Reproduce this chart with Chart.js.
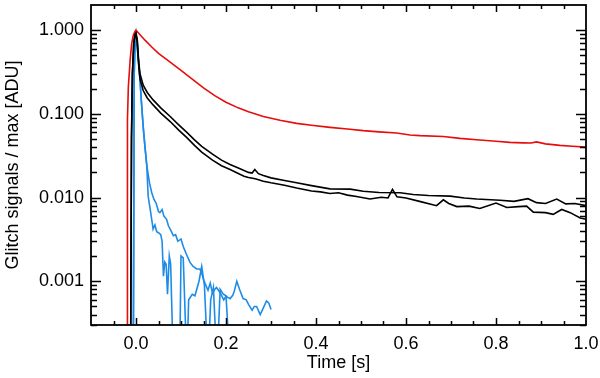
<!DOCTYPE html>
<html>
<head>
<meta charset="utf-8">
<script src="https://cdn.jsdelivr.net/npm/chart.js@4/dist/chart.umd.min.js"></script>
<style>
  html, body { margin: 0; padding: 0; background: #fff; }
  #chart { display: block; }
</style>
</head>
<body>
<canvas id="chart" width="600" height="378"></canvas>
<script>
// tick labels
const xTicks = [0.0, 0.2, 0.4, 0.6, 0.8, 1.0]
const yTicks = [0.001, 0.01, 0.1, 1]

// red glitch
const redT = [-0.020, -0.019, -0.017, -0.013, -0.0096, -0.006, -0.002, 0.0, 0.01, 0.02, 0.035, 0.05, 0.07, 0.1, 0.125, 0.15, 0.175, 0.2, 0.227, 0.25, 0.283, 0.32, 0.357, 0.39, 0.431, 0.47, 0.505, 0.54, 0.579, 0.609, 0.631, 0.683, 0.72, 0.757, 0.8, 0.831, 0.86, 0.878, 0.89, 0.91, 0.942, 0.97, 1.0]
const redV = [0.0001, 0.085, 0.21, 0.44, 0.69, 0.87, 0.97, 1.0, 0.87, 0.76, 0.63, 0.53, 0.44, 0.33, 0.26, 0.205, 0.165, 0.138, 0.118, 0.106, 0.093, 0.084, 0.077, 0.073, 0.069, 0.066, 0.063, 0.061, 0.059, 0.056, 0.055, 0.0537, 0.051, 0.049, 0.047, 0.0456, 0.045, 0.0448, 0.0462, 0.0438, 0.042, 0.041, 0.040]

// black glitches
const blackAT = [-0.012, -0.010, -0.008, -0.005, -0.002, 0.0, 0.003, 0.006, 0.009, 0.016, 0.025, 0.038, 0.055, 0.076, 0.095, 0.113, 0.13, 0.146, 0.17, 0.19, 0.209, 0.23, 0.25, 0.258, 0.264, 0.272, 0.283, 0.3, 0.33, 0.357, 0.39, 0.431, 0.476, 0.505, 0.54, 0.587, 0.616, 0.65, 0.698, 0.73, 0.757, 0.809, 0.84, 0.871, 0.89, 0.91, 0.935, 0.955, 0.975, 1.0]
const blackAV = [0.0001, 0.05, 0.3, 0.7, 0.9, 0.93, 0.75, 0.42, 0.30, 0.22, 0.18, 0.147, 0.118, 0.093, 0.074, 0.060, 0.049, 0.041, 0.033, 0.028, 0.0248, 0.0222, 0.0200, 0.0196, 0.0216, 0.0193, 0.0183, 0.0172, 0.0160, 0.0150, 0.0139, 0.0127, 0.0126, 0.0119, 0.0115, 0.0114, 0.0109, 0.0106, 0.0104, 0.0099, 0.0096, 0.0093, 0.0090, 0.0097, 0.0087, 0.0085, 0.0096, 0.0084, 0.0085, 0.0080]

const blackBT = [-0.012, -0.010, -0.008, -0.005, -0.002, 0.0, 0.003, 0.006, 0.009, 0.016, 0.025, 0.038, 0.055, 0.076, 0.095, 0.113, 0.13, 0.146, 0.17, 0.19, 0.209, 0.225, 0.24, 0.25, 0.265, 0.283, 0.3, 0.33, 0.357, 0.39, 0.41, 0.431, 0.45, 0.47, 0.49, 0.52, 0.545, 0.56, 0.570, 0.58, 0.6, 0.63, 0.668, 0.683, 0.695, 0.713, 0.74, 0.764, 0.8, 0.824, 0.85, 0.868, 0.883, 0.91, 0.927, 0.946, 0.965, 0.987, 1.0]
const blackBV = [0.0001, 0.05, 0.3, 0.7, 0.88, 0.9, 0.7, 0.38, 0.26, 0.19, 0.155, 0.128, 0.102, 0.081, 0.064, 0.052, 0.042, 0.035, 0.028, 0.024, 0.0216, 0.0197, 0.0180, 0.0174, 0.0168, 0.0157, 0.0150, 0.0140, 0.0130, 0.0120, 0.0117, 0.0112, 0.0114, 0.0107, 0.0103, 0.0096, 0.0101, 0.0099, 0.0125, 0.0102, 0.0099, 0.0090, 0.0080, 0.0094, 0.0085, 0.0078, 0.0079, 0.0074, 0.0086, 0.0076, 0.0078, 0.0079, 0.0067, 0.0066, 0.0063, 0.0072, 0.0066, 0.0057, 0.0055]

// blue glitches
const blueAT = [-0.006, -0.004, -0.002, 0.0, 0.003, 0.006, 0.009, 0.012, 0.016, 0.02, 0.024, 0.03, 0.035, 0.04, 0.045, 0.05, 0.053, 0.058, 0.062, 0.068, 0.072, 0.078, 0.083, 0.088, 0.093, 0.1, 0.105, 0.112, 0.12, 0.127, 0.135, 0.142, 0.147, 0.15, 0.155, 0.16, 0.165, 0.17, 0.175, 0.179, 0.187, 0.195, 0.2, 0.209, 0.215, 0.218, 0.224, 0.23, 0.238, 0.245, 0.25, 0.258, 0.263, 0.268, 0.276, 0.283, 0.29, 0.295, 0.3]
const blueAV = [0.0001, 0.3, 0.7, 0.88, 0.6, 0.4, 0.25, 0.14, 0.07, 0.04, 0.024, 0.015, 0.0114, 0.0095, 0.0085, 0.0068, 0.0066, 0.0072, 0.0060, 0.0055, 0.0046, 0.0040, 0.0035, 0.0036, 0.0030, 0.0032, 0.0026, 0.0021, 0.00168, 0.0015, 0.0014, 0.0014, 0.0012, 0.00105, 0.0009, 0.00078, 0.00095, 0.00072, 0.0008, 0.00084, 0.00073, 0.0006, 0.00066, 0.00062, 0.00068, 0.00075, 0.0010, 0.0008, 0.00062, 0.0006, 0.00053, 0.00045, 0.0005, 0.0005, 0.0004, 0.00048, 0.00058, 0.00055, 0.00046]

const blueBT = [-0.006, -0.004, -0.002, 0.0, 0.003, 0.006, 0.009, 0.012, 0.016, 0.02, 0.024, 0.027, 0.032, 0.036, 0.038, 0.042, 0.046, 0.05, 0.055, 0.058, 0.061, 0.064, 0.067, 0.07, 0.074, 0.077, 0.083, 0.097, 0.1, 0.105, 0.113, 0.117, 0.125, 0.131, 0.14, 0.146, 0.152, 0.16, 0.166, 0.172, 0.18, 0.187, 0.194, 0.2, 0.209]
const blueBV = [0.0001, 0.3, 0.7, 0.88, 0.6, 0.4, 0.25, 0.14, 0.07, 0.04, 0.024, 0.0104, 0.007, 0.005, 0.0042, 0.0047, 0.0039, 0.0038, 0.0036, 0.0030, 0.00115, 0.0017, 0.0016, 0.0007, 0.0020, 0.0016, 0.0001, 0.0001, 0.0020, 0.0019, 0.0001, 0.0006, 0.0007, 0.00067, 0.0010, 0.0015, 0.0009, 0.0001, 0.0006, 0.00084, 0.0001, 0.0008, 0.0007, 0.00067, 0.0001]

const RED = 'rgb(232,12,12)'
const BLUE = 'rgb(30,140,230)'

const pairs = (t, v) => t.map((x, i) => ({ x: x, y: v[i] }))

const line = (t, v, color) => ({
  data: pairs(t, v),
  borderColor: color,
  borderWidth: 1.6,
  pointRadius: 0,
  tension: 0,
  fill: false
})

// IDL style frame with inward ticks on all four sides
const frameTicks = {
  id: 'frameTicks',
  afterDatasetsDraw (chart) {
    const { ctx, chartArea: a, scales: { x, y } } = chart
    ctx.save()
    ctx.strokeStyle = '#000'
    ctx.lineWidth = 1.5
    ctx.beginPath()
    for (let i = -1; i < 20; i++) {
      const px = Math.round(x.getPixelForValue(i * 0.05)) + 0.5
      const len = i % 4 === 0 ? 7 : 4
      ctx.moveTo(px, a.bottom); ctx.lineTo(px, a.bottom - len)
      ctx.moveTo(px, a.top); ctx.lineTo(px, a.top + len)
    }
    for (let d = -4; d <= 0; d++) {
      for (let m = 1; m <= 9; m++) {
        const v = m * Math.pow(10, d)
        if (v <= y.min || v >= y.max) continue
        const py = Math.round(y.getPixelForValue(v)) + 0.5
        const len = m === 1 ? 10 : 6
        ctx.moveTo(a.left, py); ctx.lineTo(a.left + len, py)
        ctx.moveTo(a.right, py); ctx.lineTo(a.right - len, py)
      }
    }
    ctx.stroke()
    ctx.lineWidth = 1.8
    ctx.strokeRect(a.left, a.top, a.right - a.left, a.bottom - a.top)
    ctx.restore()
  }
}

Chart.defaults.font.family = '"Liberation Sans", Arial, Helvetica, sans-serif'
Chart.defaults.font.size = 18
Chart.defaults.color = '#000'

new Chart(document.getElementById('chart'), {
  type: 'line',
  data: {
    datasets: [
      line(blackAT, blackAV, '#000'),
      line(blackBT, blackBV, '#000'),
      line(redT, redV, RED),
      line(blueAT, blueAV, BLUE),
      line(blueBT, blueBV, BLUE)
    ]
  },
  options: {
    responsive: false,
    animation: false,
    layout: { padding: { top: 5, right: 14, left: 0, bottom: 0 } },
    plugins: {
      legend: { display: false },
      tooltip: { enabled: false }
    },
    scales: {
      x: {
        type: 'linear',
        min: -0.1,
        max: 1.0,
        afterBuildTicks: s => { s.ticks = xTicks.map(v => ({ value: v })) },
        afterFit: s => {
          s.height = 53
          s.paddingLeft = 0
          s.paddingRight = 0
        },
        grid: { display: false, drawTicks: false },
        border: { display: false },
        ticks: {
          padding: 8,
          maxRotation: 0,
          callback: v => v.toFixed(1)
        },
        title: {
          display: true,
          text: 'Time [s]',
          padding: { top: 0, bottom: 4 }
        }
      },
      y: {
        type: 'logarithmic',
        min: 0.0003,
        max: 2,
        afterBuildTicks: s => { s.ticks = yTicks.map(v => ({ value: v })) },
        afterFit: s => {
          s.width = 91
          s.paddingTop = 0
          s.paddingBottom = 0
        },
        grid: { display: false, drawTicks: false },
        border: { display: false },
        ticks: {
          padding: 7,
          callback: v => v.toFixed(3)
        },
        title: {
          display: true,
          text: 'Glitch signals / max [ADU]',
          padding: { top: 2, bottom: 0 }
        }
      }
    }
  },
  plugins: [frameTicks]
})
</script>
</body>
</html>
